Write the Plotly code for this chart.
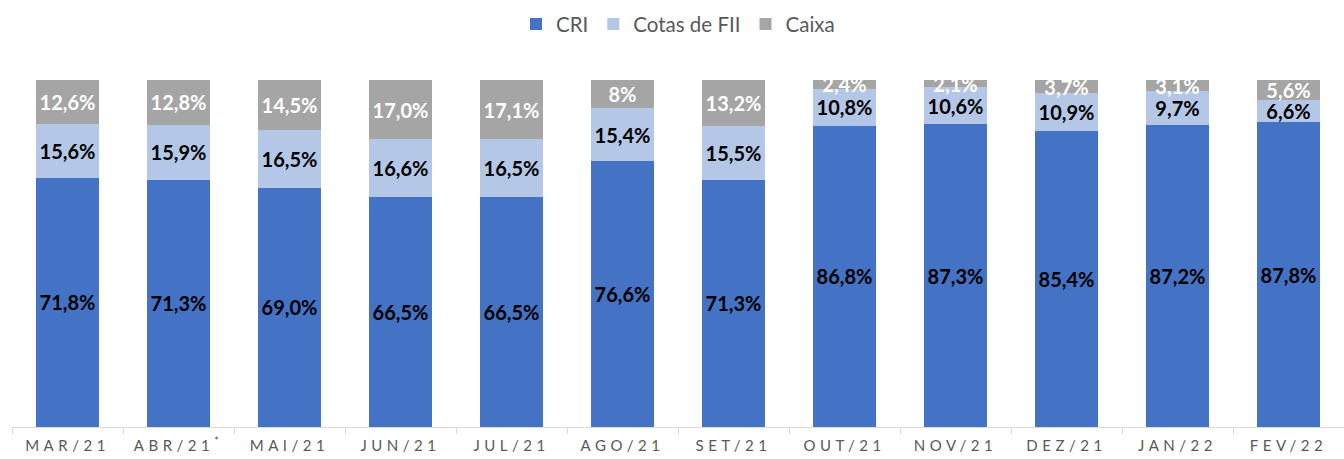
import plotly.graph_objects as go

months = ["MAR/21", "ABR/21<sup>*</sup>", "MAI/21", "JUN/21", "JUL/21", "AGO/21",
          "SET/21", "OUT/21", "NOV/21", "DEZ/21", "JAN/22", "FEV/22"]
cri = [71.8, 71.3, 69.0, 66.5, 66.5, 76.6, 71.3, 86.8, 87.3, 85.4, 87.2, 87.8]
cotas = [15.6, 15.9, 16.5, 16.6, 16.5, 15.4, 15.5, 10.8, 10.6, 10.9, 9.7, 6.6]
caixa = [12.6, 12.8, 14.5, 17.0, 17.1, 8.0, 13.2, 2.4, 2.1, 3.7, 3.1, 5.6]
caixa_labels = ["12,6%", "12,8%", "14,5%", "17,0%", "17,1%", "8%", "13,2%",
                "2,4%", "2,1%", "3,7%", "3,1%", "5,6%"]

def fmt(v):
    return f"{v:.1f}".replace(".", ",") + "%"

FONT = "Lato"
LBL = 20
fig = go.Figure()
fig.add_trace(go.Bar(name="CRI", x=months, y=cri, marker_color="#4472C4",
                     text=[fmt(v) for v in cri],
                     textfont=dict(family=FONT, size=LBL, color="black", weight="bold")))
fig.add_trace(go.Bar(name="Cotas de FII", x=months, y=cotas, marker_color="#B4C7E7",
                     text=[fmt(v) for v in cotas],
                     textfont=dict(family=FONT, size=LBL, color="black", weight="bold")))
fig.add_trace(go.Bar(name="Caixa", x=months, y=caixa, marker_color="#A5A5A5",
                     text=caixa_labels,
                     textfont=dict(family=FONT, size=LBL, color="white", weight="bold")))

for t in fig.data:
    t.marker.line.width = 0
    t.textangle = 0
    t.textposition = "inside"
    t.insidetextanchor = "middle"
    t.constraintext = "none"
    t.cliponaxis = False

fig.update_layout(
    barmode="stack", barnorm="percent", bargap=0.44,
    width=1344, height=459,
    margin=dict(l=12, r=0, t=80, b=32),
    plot_bgcolor="white", paper_bgcolor="white",
    font=dict(family=FONT, color="#595959"),
    legend=dict(orientation="h", x=0.5, xanchor="center", y=1.161, yanchor="middle",
                font=dict(size=20.5, color="#595959", family=FONT),
                itemsizing="constant", traceorder="normal", itemwidth=30),
    showlegend=True,
)
fig.update_xaxes(showline=True, linecolor="#D9D9D9", linewidth=1,
                 ticks="outside", tickson="boundaries", ticklen=6, tickcolor="#D9D9D9",
                 tickfont=dict(size=15, color="#595959", family=FONT),
                 ticklabelstandoff=5, showgrid=False)
fig.update_yaxes(visible=False, range=[0, 100.05], showgrid=False)

post = """
var s=document.createElement('style');
s.innerHTML='.xtick text{letter-spacing:4.5px;}';
document.head.appendChild(s);
"""
fig.write_html("out.html", post_script=post)
